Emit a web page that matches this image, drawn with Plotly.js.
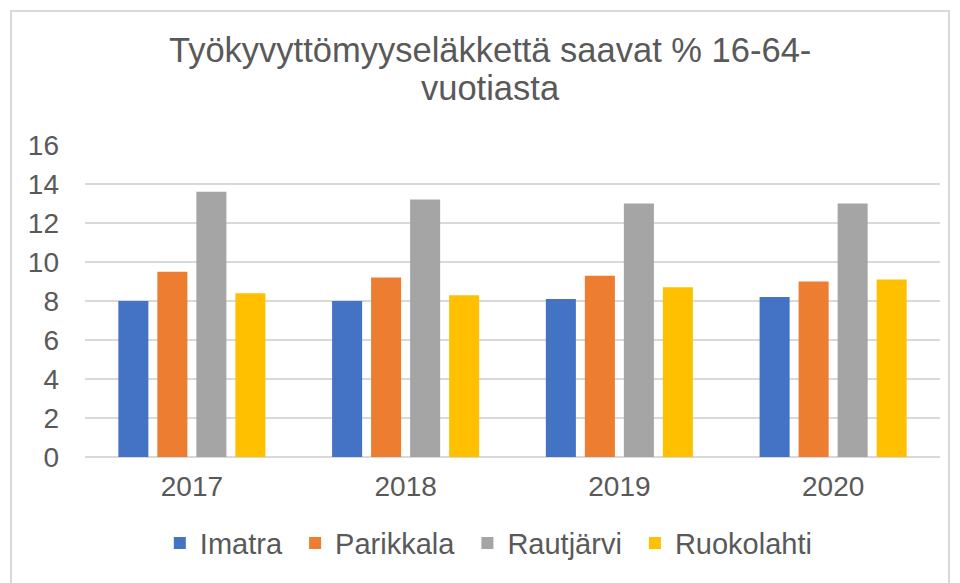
<!DOCTYPE html>
<html>
<head>
<meta charset="utf-8">
<script src="https://cdn.plot.ly/plotly-3.0.1.min.js"></script>
<style>
  html, body { margin: 0; padding: 0; background: #ffffff; }
  #wrap { position: relative; width: 960px; height: 583px; overflow: hidden; }
  #frame { position: absolute; left: 10px; top: 10px; width: 936px; height: 600px; border: 2px solid #d9d9d9; pointer-events: none; }
  #chart { position: absolute; left: 0; top: 0; width: 960px; height: 583px; }
</style>
</head>
<body>
<div id="wrap">
  <div id="chart"></div>
  <div id="frame"></div>
</div>
<script>
const years = ['2017', '2018', '2019', '2020'];
const imatra = [8.0, 8.0, 8.1, 8.2];
const parikkala = [9.5, 9.2, 9.3, 9.0];
const rautjarvi = [13.6, 13.2, 13.0, 13.0];
const ruokolahti = [8.4, 8.3, 8.7, 9.1];
const seriesNames = ['Imatra', 'Parikkala', 'Rautjärvi', 'Ruokolahti'];
const seriesValues = [imatra, parikkala, rautjarvi, ruokolahti];
const colors = ['#4472C4', '#ED7D31', '#A5A5A5', '#FFC000'];
const yTicks = [0, 2, 4, 6, 8, 10, 12, 14, 16];
const titleLines = ['Työkyvyttömyyseläkkettä saavat % 16-64-', 'vuotiasta'];

const FONT = 'Liberation Sans, Arial, sans-serif';
const GREY = '#595959';

const traces = seriesNames.map((name, i) => ({
  type: 'bar',
  name: name + '\u00a0',
  x: years,
  y: seriesValues[i],
  marker: { color: colors[i] },
  hoverinfo: 'x+y+name'
}));

const layout = {
  width: 960,
  height: 583,
  paper_bgcolor: 'rgba(0,0,0,0)',
  plot_bgcolor: 'rgba(0,0,0,0)',
  font: { family: FONT, color: GREY, size: 28 },
  margin: { l: 85, r: 20, t: 145, b: 126 },
  barmode: 'group',
  bargap: 0.27,
  bargroupgap: 0.23,
  annotations: [
    { text: titleLines[0], xref: 'paper', yref: 'paper', x: 0.474, y: 1.305, xanchor: 'center', yanchor: 'middle',
      showarrow: false, font: { size: 34.5, color: GREY, family: FONT } },
    { text: titleLines[1], xref: 'paper', yref: 'paper', x: 0.474, y: 1.183, xanchor: 'center', yanchor: 'middle',
      showarrow: false, font: { size: 34.5, color: GREY, family: FONT } }
  ],
  xaxis: {
    type: 'category',
    showgrid: false,
    showline: false,
    ticks: '',
    tickfont: { size: 28, color: GREY },
    ticklabelstandoff: 10
  },
  yaxis: {
    range: [0, 16],
    tickvals: yTicks,
    ticktext: yTicks.map(String),
    showgrid: true,
    gridcolor: '#d9d9d9',
    gridwidth: 2,
    zeroline: true,
    zerolinecolor: '#d9d9d9',
    zerolinewidth: 2,
    showline: false,
    ticks: '',
    tickfont: { size: 28, color: GREY },
    ticklabelstandoff: 25
  },
  legend: {
    orientation: 'h',
    x: 0.477, xanchor: 'center',
    y: -0.276, yanchor: 'middle',
    font: { size: 29, color: GREY },
    itemwidth: 30,
    tracegroupgap: 0
  },
  showlegend: true
};

Plotly.newPlot('chart', traces, layout, { displayModeBar: false, staticPlot: true });
</script>
</body>
</html>
